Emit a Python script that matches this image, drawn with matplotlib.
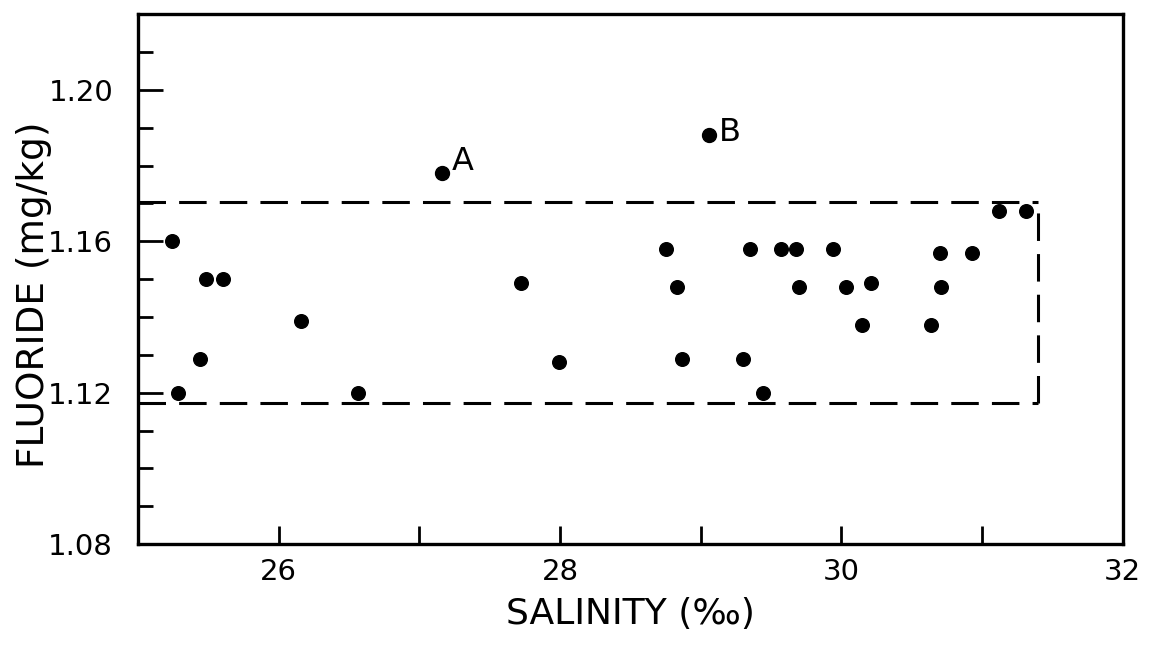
import numpy as np
import matplotlib.pyplot as plt
from matplotlib.ticker import FixedLocator

# salinity (per mille) and fluoride (mg/kg)
salinity = [25.24, 25.48, 25.60, 26.16, 25.44, 25.28, 26.56, 27.72, 27.99,
            28.75, 29.35, 29.57, 29.68, 29.94, 30.70, 30.93,
            28.83, 29.70, 30.03, 30.21, 30.71, 30.15, 30.64,
            28.87, 29.30, 29.44, 31.12, 31.31]
fluoride = [1.160, 1.150, 1.150, 1.139, 1.129, 1.120, 1.120, 1.149, 1.128,
            1.158, 1.158, 1.158, 1.158, 1.158, 1.157, 1.157,
            1.148, 1.148, 1.148, 1.149, 1.148, 1.138, 1.138,
            1.129, 1.129, 1.120, 1.168, 1.168]

outlier_names = ["A", "B"]
outlier_salinity = [27.16, 29.06]
outlier_fluoride = [1.178, 1.188]

# dashed envelope around the normal range
box_salinity = [25.0, 31.4]
box_fluoride = [1.1173, 1.1703]

x_major = [26, 28, 30, 32]
x_minor = [27, 29, 31]
y_major = [1.08, 1.12, 1.16, 1.20]
y_minor = [1.09, 1.10, 1.11, 1.13, 1.14, 1.15, 1.17, 1.18, 1.19, 1.21]

fig = plt.figure(figsize=(11.61, 6.5), dpi=100)
ax = fig.add_axes([0.119, 0.163, 0.848, 0.815])

dash = (0, (9, 4.3))
x0, x1 = box_salinity
y0, y1 = box_fluoride
ax.plot([x0, x1], [y1, y1], color="black", lw=2.2, linestyle=dash)
ax.plot([x0, x1], [y0, y0], color="black", lw=2.2, linestyle=dash)
ax.plot([x1, x1], [y0, y1], color="black", lw=2.2, linestyle=dash)

ax.plot(salinity, fluoride, "o", color="black", markersize=9.8)
ax.plot(outlier_salinity, outlier_fluoride, "o", color="black", markersize=10)
for name, sx, fy in zip(outlier_names, outlier_salinity, outlier_fluoride):
    dy = 2 if name == "A" else -4
    ax.annotate(name, (sx, fy), xytext=(7, dy), textcoords="offset points",
                fontsize=23, va="baseline", ha="left")

ax.set_xlim(25, 32)
ax.set_ylim(1.08, 1.22)

ax.xaxis.set_major_locator(FixedLocator(x_major))
ax.xaxis.set_minor_locator(FixedLocator(x_minor))
ax.yaxis.set_major_locator(FixedLocator(y_major))
ax.yaxis.set_minor_locator(FixedLocator(y_minor))
ax.set_xticklabels([str(v) for v in x_major])
ax.set_yticklabels(["%.2f" % v for v in y_major])

ax.tick_params(axis="x", which="both", direction="in", length=13, width=2,
               labelsize=21, pad=10)
ax.tick_params(axis="y", which="major", direction="in", length=18, width=2,
               labelsize=21, pad=18)
ax.tick_params(axis="y", which="minor", direction="in", length=11, width=2)

for side in ["left", "right", "top", "bottom"]:
    ax.spines[side].set_linewidth(2.4)

ax.set_xlabel("SALINITY (‰)", fontsize=26, labelpad=8)
ax.set_ylabel("FLUORIDE (mg/kg)", fontsize=27)
ax.yaxis.set_label_coords(-0.088, 0.47)

fig.savefig("out.png", dpi=100)
